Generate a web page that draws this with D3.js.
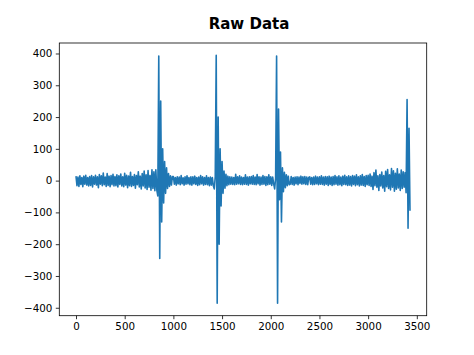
<!DOCTYPE html>
<html>
<head>
<meta charset="utf-8">
<script src="https://cdn.jsdelivr.net/npm/d3@7"></script>
<style>
  body { margin: 0; background: #fff; }
  svg { display: block; font-family: "DejaVu Sans", sans-serif; }
</style>
</head>
<body>
<svg width="474" height="355"></svg>
<script>
const svg = d3.select("svg");
const width = +svg.attr("width");
const height = +svg.attr("height");

const titleText = "Raw Data";

// sample spacing along the x axis (one reading per 10 samples)
const sampleStep = 10;

// readings estimated from the plot, rows of 20 = 200 samples each
const rawValues = [
    14, -16, 11, -18, 15, -12, 10, -19, 14, -11, 17, -14, 10, -17, 13, -15, 16, -20, 12, -11,
    17, -14, 12, -22, 19, -11, 15, -16, 24, -13, 11, -18, 22, -15, 14, -19, 16, -13, 20, -17,
    13, -16, 18, -20, 15, -12, 21, -17, 12, -19, 23, -14, 17, -22, 14, -16, 26, -18, 13, -15,
    19, -24, 16, -13, 28, -20, 14, -26, 22, -17, 30, -23, 18, -28, 32, -21, 16, -30, 34, -25,
    28, -32, 34, -30, -48, 392, -245, 250, -130, 100, -70, 60, -40, 40, -25, 22, -18, 15, -14, 13,
    13, -11, 10, -14, 12, -10, 11, -13, 16, -10, 9, -14, 12, -11, 15, -10, 10, -13, 12, -14,
    12, -10, 14, -12, 10, -15, 11, -13, 16, -10, 12, -14, 10, -12, 15, -13, 10, -16, 11, -14,
    10, -16, -26, 12, 394, -386, 200, -200, 100, -80, 60, -40, 30, -24, 20, -16, 14, -13, 12, -11,
    11, -12, 10, -13, 20, -11, 12, -10, 15, -12, 11, -13, 10, -11, 18, -12, 11, -14, 12, -10,
    13, -11, 16, -12, 11, -13, 19, -10, 12, -14, 11, -12, 16, -11, 13, -15, 12, -13, 18, -11,
    12, -15, 11, -10, -26, 8, 392, -386, 225, -60, 90, -130, 40, -35, 26, -22, 18, -16, 14, -13,
    -11, 13, -12, 10, -14, 11, -10, 12, -13, 11, -9, 14, -11, 12, -10, 13, -12, 11, -13, 10,
    12, -11, 10, -13, 11, -12, 14, -10, 11, -13, 12, -11, 15, -12, 11, -14, 13, -11, 12, -15,
    14, -12, 11, -15, 13, -13, 16, -11, 12, -14, 15, -13, 11, -16, 14, -12, 17, -13, 12, -15,
    15, -14, 13, -17, 16, -12, 14, -16, 18, -13, 12, -17, 15, -14, 19, -15, 13, -18, 16, -13,
    17, -15, 21, -18, 14, -28, 25, -16, 33, -21, 15, -31, 19, -17, 27, -23, 16, -33, 29, -19,
    35, -25, 18, -29, 38, -21, 31, -33, 23, -27, 37, -23, 21, -31, 33, -25, 28, -21, 25, -38,
    255, -150, 165, -95
];

const xTicks = [0, 500, 1000, 1500, 2000, 2500, 3000, 3500];
const yTicks = [-400, -300, -200, -100, 0, 100, 200, 300, 400];

const margin = { top: 43, right: 47.3, bottom: 39.3, left: 59.3 };
const innerW = width - margin.left - margin.right;
const innerH = height - margin.top - margin.bottom;

const data = rawValues.map((v, i) => ({ x: i * sampleStep, y: v }));

// matplotlib style 5% padding around the data
const pad = ([a, b]) => [a - (b - a) * 0.05, b + (b - a) * 0.05];

const xScale = d3.scaleLinear()
    .domain(pad(d3.extent(data, d => d.x)))
    .range([0, innerW]);

const yScale = d3.scaleLinear()
    .domain(pad(d3.extent(data, d => d.y)))
    .range([innerH, 0]);

const chart = svg.append("g")
    .attr("transform", `translate(${margin.left},${margin.top})`);

// title
svg.append("text")
    .attr("x", 249)
    .attr("y", 29)
    .attr("text-anchor", "middle")
    .attr("font-size", 15)
    .attr("font-weight", "bold")
    .text(titleText);

// signal line
chart.append("path")
    .datum(data)
    .attr("fill", "none")
    .attr("stroke", "#1f77b4")
    .attr("stroke-width", 1.6)
    .attr("stroke-linejoin", "round")
    .attr("d", d3.line().x(d => xScale(d.x)).y(d => yScale(d.y)));

// axes
const xAxis = chart.append("g")
    .attr("transform", `translate(0,${innerH})`)
    .call(d3.axisBottom(xScale).tickValues(xTicks).tickFormat(d3.format("d"))
        .tickSize(3.5).tickPadding(3.5).tickSizeOuter(0));

const yAxis = chart.append("g")
    .call(d3.axisLeft(yScale).tickValues(yTicks).tickSize(3.5).tickPadding(3.5).tickSizeOuter(0));

[xAxis, yAxis].forEach(ax => {
    ax.select(".domain").remove();
    ax.selectAll("text").attr("font-size", 10.3).attr("fill", "#000").attr("font-family", "DejaVu Sans, sans-serif");
    ax.selectAll("line").attr("stroke", "#000").attr("stroke-width", 0.8);
});

// frame
chart.append("rect")
    .attr("width", innerW)
    .attr("height", innerH)
    .attr("fill", "none")
    .attr("stroke", "#000")
    .attr("stroke-width", 0.8);
</script>
</body>
</html>
